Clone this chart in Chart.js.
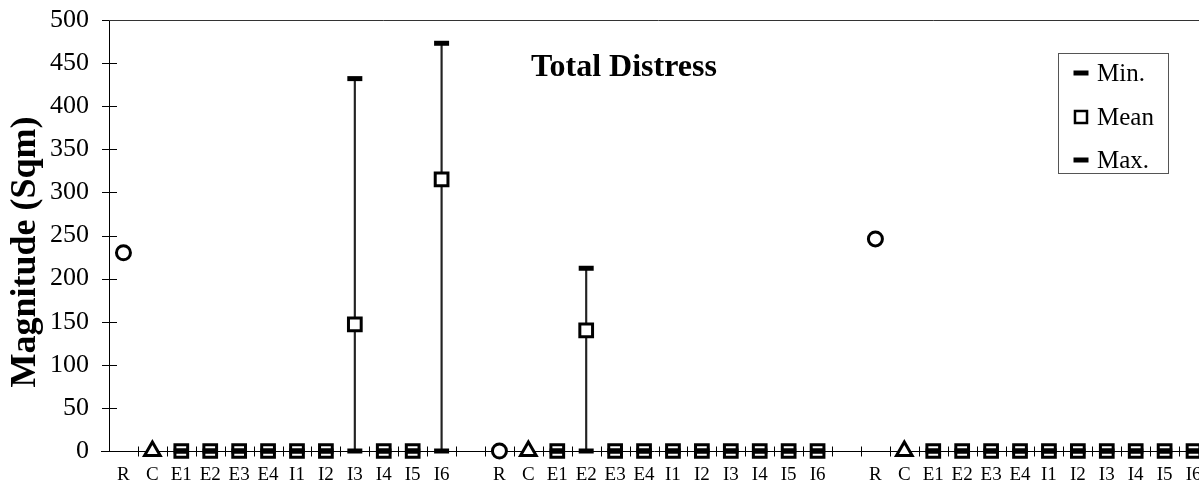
<!DOCTYPE html>
<html>
<head>
<meta charset="utf-8">
<title>Total Distress</title>
<script src="https://cdn.jsdelivr.net/npm/chart.js@4/dist/chart.umd.min.js"></script>
<style>
  html, body { margin: 0; padding: 0; background: #fff; overflow: hidden; }
  #wrap { width: 1199px; height: 492px; overflow: hidden; }
  #chart { display: block; width: 1208px; height: 492px; }
</style>
</head>
<body>
<!-- the last category runs past the right edge, as in the source figure -->
<div id="wrap"><canvas id="chart" width="1208" height="492"></canvas></div>
<script>
// categories of one section, three sections separated by an empty slot
const groupCats = ['R', 'C', 'E1', 'E2', 'E3', 'E4', 'I1', 'I2', 'I3', 'I4', 'I5', 'I6'];
const sectionCount = 3;

// R (circle) and C (triangle) per section
const refValues = [230, 0, 246];
const ctrlValues = [0, 0, 0];

// E1..I6 per section
const minValues = [
    [0, 0, 0, 0, 0, 0, 0, 0, 0, 0],
    [0, 0, 0, 0, 0, 0, 0, 0, 0, 0],
    [0, 0, 0, 0, 0, 0, 0, 0, 0, 0]
];
const meanValues = [
    [0, 0, 0, 0, 0, 0, 147, 0, 0, 315],
    [0, 140, 0, 0, 0, 0, 0, 0, 0, 0],
    [0, 0, 0, 0, 0, 0, 0, 0, 0, 0]
];
const maxValues = [
    [0, 0, 0, 0, 0, 0, 432, 0, 0, 473],
    [0, 212, 0, 0, 0, 0, 0, 0, 0, 0],
    [0, 0, 0, 0, 0, 0, 0, 0, 0, 0]
];

const yMin = 0;
const yMax = 500;
const yStep = 50;

const xLabels = [];
function build(fn) {
    const out = [];
    for (let s = 0; s < sectionCount; s++) {
        if (s > 0) out.push(null);
        groupCats.forEach((c, i) => out.push(fn(s, i)));
    }
    return out;
}
for (let s = 0; s < sectionCount; s++) {
    if (s > 0) xLabels.push('');
    groupCats.forEach(c => xLabels.push(c));
}

const refSeries = build((s, i) => i === 0 ? refValues[s] : null);
const ctrlSeries = build((s, i) => i === 1 ? ctrlValues[s] : null);
const minSeries = build((s, i) => i >= 2 ? minValues[s][i - 2] : null);
const meanSeries = build((s, i) => i >= 2 ? meanValues[s][i - 2] : null);
const maxSeries = build((s, i) => i >= 2 ? maxValues[s][i - 2] : null);
const rangeSeries = build((s, i) => {
    if (i < 2) return null;
    const lo = minValues[s][i - 2], hi = maxValues[s][i - 2];
    return hi > lo ? [lo, hi] : null;
});

const serif = "'Liberation Serif', 'Times New Roman', serif";

function markers(label, data, style, radius, border, order) {
    return {
        type: 'line',
        label: label,
        data: data,
        showLine: false,
        clip: false,
        order: order,
        borderColor: '#000',
        backgroundColor: '#fff',
        pointStyle: style,
        pointRadius: radius,
        pointBorderWidth: border,
        pointBorderColor: '#000',
        pointBackgroundColor: '#fff'
    };
}

const minDs = markers('Min.', minSeries, 'line', 7.5, 5, 1);
const meanDs = markers('Mean', meanSeries, 'rect', 9, 3, 4);
const maxDs = markers('Max.', maxSeries, 'line', 7.5, 5, 1);

function line(ctx, x1, y1, x2, y2) {
    ctx.beginPath();
    ctx.moveTo(x1, y1);
    ctx.lineTo(x2, y2);
    ctx.stroke();
}

const decor = {
    id: 'decor',
    beforeDatasetsDraw(chart) {
        const { ctx, chartArea } = chart;
        const x = chart.scales.x, y = chart.scales.y;
        const py0 = y.getPixelForValue(0);
        ctx.save();
        ctx.strokeStyle = '#000';
        ctx.lineWidth = 1;
        // y axis + crossing ticks
        line(ctx, chartArea.left + 0.5, y.getPixelForValue(yMax), chartArea.left + 0.5, py0);
        y.ticks.forEach((t, i) => {
            const py = Math.round(y.getPixelForTick(i)) + 0.5;
            line(ctx, chartArea.left - 7, py, chartArea.left + 8, py);
        });
        // x axis + ticks between categories
        const by = Math.round(py0) + 0.5;
        line(ctx, chartArea.left - 8, by, chartArea.right, by);
        for (let i = 1; i < xLabels.length; i++) {
            const px = Math.round((x.getPixelForValue(i - 1) + x.getPixelForValue(i)) / 2) + 0.5;
            line(ctx, px, by - 5, px, by + 5);
        }
        // top frame
        ctx.strokeStyle = '#333';
        const ty = Math.round(y.getPixelForValue(yMax)) + 0.5;
        line(ctx, chartArea.left, ty, chartArea.right, ty);
        ctx.restore();
    },
    afterDraw(chart) {
        const { ctx } = chart;
        ctx.save();
        ctx.fillStyle = '#000';
        // title
        ctx.font = 'bold 32px ' + serif;
        ctx.textAlign = 'center';
        ctx.textBaseline = 'middle';
        ctx.fillText('Total Distress', 624, 68);
        // y axis title
        ctx.save();
        ctx.translate(26, 252);
        ctx.rotate(-Math.PI / 2);
        ctx.font = 'bold 36px ' + serif;
        ctx.fillText('Magnitude (Sqm)', 0, 0);
        ctx.restore();
        // legend box
        ctx.strokeStyle = '#555';
        ctx.lineWidth = 1;
        ctx.strokeRect(1058.5, 53.5, 110, 120);
        ctx.font = '25px ' + serif;
        ctx.textAlign = 'left';
        const items = [[minDs, 73], [meanDs, 117], [maxDs, 160]];
        items.forEach(([ds, yy]) => {
            const isRect = ds.pointStyle === 'rect';
            ctx.strokeStyle = '#000';
            ctx.fillStyle = '#fff';
            ctx.lineWidth = isRect ? 2.5 : 5;
            Chart.helpers.drawPoint(ctx, {
                pointStyle: ds.pointStyle,
                radius: isRect ? 8.5 : 7.5,
                borderWidth: isRect ? 2.5 : 5,
                rotation: 0
            }, 1081, yy);
            ctx.fillStyle = '#000';
            ctx.fillText(ds.label, 1097, yy + 1);
        });
        ctx.restore();
    }
};

new Chart(document.getElementById('chart'), {
    type: 'line',
    data: {
        labels: xLabels,
        datasets: [
            {
                type: 'bar',
                label: 'range',
                data: rangeSeries,
                backgroundColor: '#222',
                barThickness: 1.5,
                grouped: false,
                clip: false,
                order: 10
            },
            markers('R', refSeries, 'circle', 7, 3, 5),
            markers('C', ctrlSeries, 'triangle', 9, 3, 5),
            meanDs,
            minDs,
            maxDs
        ]
    },
    options: {
        responsive: false,
        animation: false,
        events: [],
        layout: { autoPadding: false, padding: { top: 20, left: 0, right: 0, bottom: 0 } },
        plugins: {
            legend: { display: false },
            title: { display: false },
            tooltip: { enabled: false }
        },
        scales: {
            x: {
                type: 'category',
                offset: true,
                grid: { display: false, drawTicks: false },
                border: { display: false },
                ticks: {
                    autoSkip: false,
                    maxRotation: 0,
                    color: '#000',
                    padding: 0,
                    font: { family: serif, size: 19, lineHeight: 2.55 }
                },
                afterFit: s => { s.height = 41; s.paddingLeft = 0; s.paddingRight = 0; }
            },
            y: {
                min: yMin,
                max: yMax,
                grid: { display: false, drawTicks: false },
                border: { display: false },
                ticks: {
                    stepSize: yStep,
                    color: '#000',
                    padding: 20,
                    font: { family: serif, size: 26 }
                },
                afterFit: s => { s.width = 109; s.paddingTop = 0; s.paddingBottom = 0; }
            }
        }
    },
    plugins: [decor]
});
</script>
</body>
</html>
